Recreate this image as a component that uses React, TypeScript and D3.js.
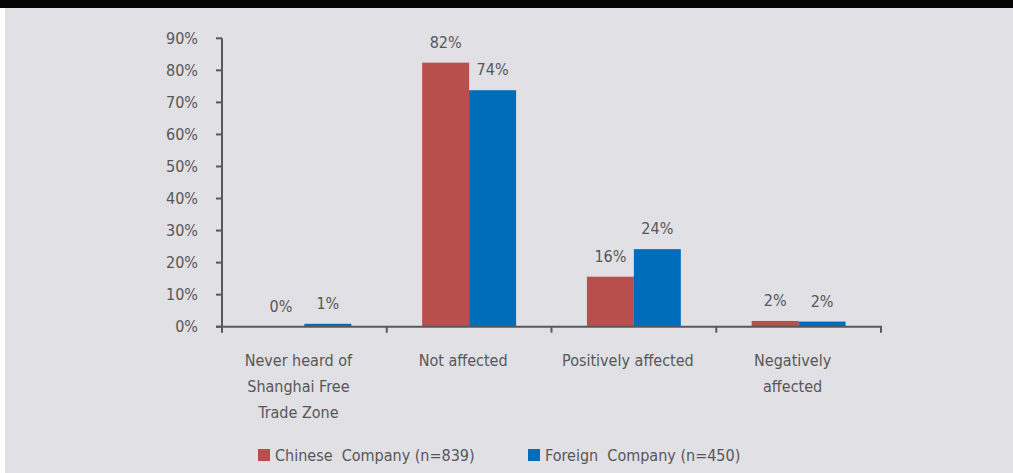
import * as d3 from "d3";
import { useEffect, useRef } from "react";

// Categories and series.
const categories = [
  ["Never heard of", "Shanghai Free", "Trade Zone"],
  ["Not affected"],
  ["Positively affected"],
  ["Negatively", "affected"],
];
const chineseValues = [0, 82.4, 15.6, 1.8];
const foreignValues = [0.9, 73.8, 24.2, 1.6];
const chineseLabels = ["0%", "82%", "16%", "2%"];
const foreignLabels = ["1%", "74%", "24%", "2%"];
const yTicks = [0, 10, 20, 30, 40, 50, 60, 70, 80, 90];
const seriesNames = ["Chinese  Company (n=839)", "Foreign  Company (n=450)"];
const seriesColors = ["#b84f4c", "#006dbb"];

const WIDTH = 1013;
const HEIGHT = 473;
const FONT = "'DejaVu Sans Condensed', 'DejaVu Sans', sans-serif";
const TEXT_COLOR = "#575757";

const App = () => {
  const svgRef = useRef(null);

  useEffect(() => {
    if (!svgRef.current) return;
    document.body.style.margin = "0";

    const svg = d3.select(svgRef.current);
    svg.selectAll("*").remove();

    // Background, top black band and white left edge
    svg.append("rect").attr("width", WIDTH).attr("height", HEIGHT).attr("fill", "#e1e0e5");
    svg.append("rect").attr("width", WIDTH).attr("height", 8).attr("fill", "#050505");
    svg.append("rect").attr("y", 8).attr("width", 5).attr("height", HEIGHT - 8).attr("fill", "#ffffff");

    const x = d3
      .scaleBand()
      .domain(categories.map((_, i) => String(i)))
      .range([222, 881]);

    const y = d3.scaleLinear().domain([0, 90]).range([326.7, 38.3]);

    const barW = x.bandwidth() * 0.285;

    const g = svg
      .append("g")
      .attr("font-family", FONT)
      .attr("font-stretch", "condensed")
      .attr("font-size", 16)
      .attr("fill", TEXT_COLOR);

    // --- Bars ---
    const series = [chineseValues, foreignValues];
    const seriesLabels = [chineseLabels, foreignLabels];
    series.forEach((values, s) => {
      const offset = s === 0 ? -barW : 0;
      g.append("g")
        .selectAll("rect")
        .data(values)
        .join("rect")
        .attr("x", (_d, i) => x(String(i)) + x.bandwidth() / 2 + offset)
        .attr("y", (d) => y(d))
        .attr("width", barW)
        .attr("height", (d) => y(0) - y(d))
        .attr("fill", seriesColors[s]);

      g.append("g")
        .selectAll("text")
        .data(values)
        .join("text")
        .attr("x", (_d, i) => x(String(i)) + x.bandwidth() / 2 + offset + barW / 2)
        .attr("y", (d) => y(d) - 15)
        .attr("text-anchor", "middle")
        .text((_d, i) => seriesLabels[s][i]);
    });

    // --- Y axis ---
    const axisColor = "#595959";
    g.append("line")
      .attr("x1", 222)
      .attr("x2", 222)
      .attr("y1", y(90))
      .attr("y2", y(0))
      .attr("stroke", axisColor)
      .attr("stroke-width", 2);

    const yTick = g.append("g").selectAll("g").data(yTicks).join("g");
    yTick
      .append("line")
      .attr("x1", 216)
      .attr("x2", 222)
      .attr("y1", (d) => y(d))
      .attr("y2", (d) => y(d))
      .attr("stroke", axisColor)
      .attr("stroke-width", 2);
    yTick
      .append("text")
      .attr("x", 198)
      .attr("y", (d) => y(d))
      .attr("dy", "0.36em")
      .attr("text-anchor", "end")
      .text((d) => `${d}%`);

    // --- X axis ---
    g.append("line")
      .attr("x1", 216)
      .attr("x2", 882)
      .attr("y1", y(0))
      .attr("y2", y(0))
      .attr("stroke", axisColor)
      .attr("stroke-width", 2);

    const bounds = categories.map((_, i) => x(String(i))).concat([x.range()[1]]);
    g.append("g")
      .selectAll("line")
      .data(bounds)
      .join("line")
      .attr("x1", (d) => d)
      .attr("x2", (d) => d)
      .attr("y1", y(0))
      .attr("y2", y(0) + 6)
      .attr("stroke", axisColor)
      .attr("stroke-width", 2);

    g.append("g")
      .selectAll("text")
      .data(categories)
      .join("text")
      .attr("text-anchor", "middle")
      .attr("transform", (_d, i) => `translate(${x(String(i)) + x.bandwidth() / 2 - 6},366)`)
      .each(function (lines) {
        d3.select(this)
          .selectAll("tspan")
          .data(lines)
          .join("tspan")
          .attr("x", 0)
          .attr("y", (_l, j) => j * 25.8)
          .text((l) => l);
      });

    // --- Legend ---
    const legendX = [258, 528];
    const legend = g.append("g").selectAll("g").data(seriesNames).join("g")
      .attr("transform", (_d, i) => `translate(${legendX[i]},449)`);
    legend
      .append("rect")
      .attr("width", 12)
      .attr("height", 12)
      .attr("fill", (_d, i) => seriesColors[i]);
    legend
      .append("text")
      .attr("x", 17)
      .attr("y", 6)
      .attr("dy", "0.36em")
      .attr("xml:space", "preserve")
      .style("white-space", "pre")
      .text((d) => d);
  }, []);

  return <svg ref={svgRef} width={WIDTH} height={HEIGHT} style={{ display: "block" }} />;
};

export default App;
